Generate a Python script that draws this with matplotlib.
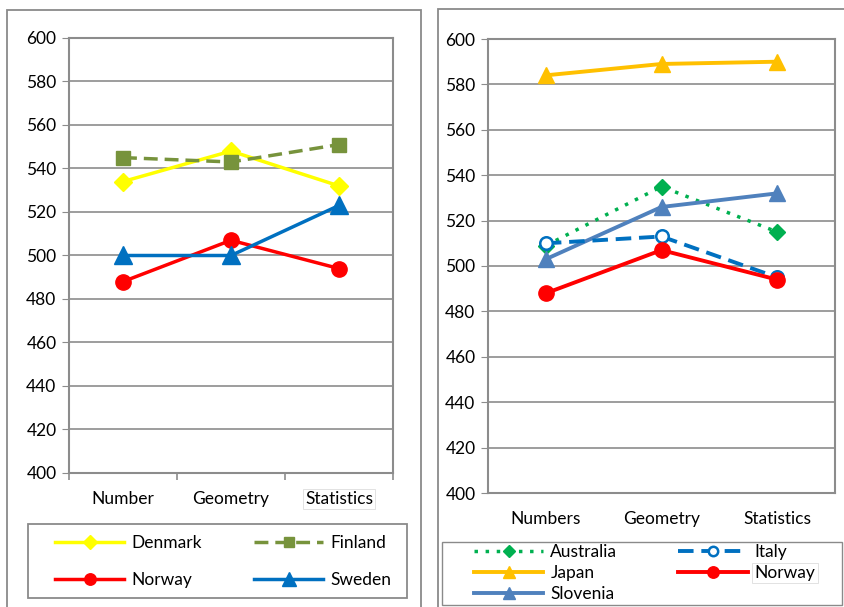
import matplotlib
matplotlib.use("Agg")
import matplotlib.pyplot as plt
from matplotlib.patches import Rectangle
import numpy as np

plt.rcParams['font.family'] = ['Lato', 'DejaVu Sans']

# left panel (Nordic countries)
cats_left = ["Number", "Geometry", "Statistics"]
denmark = [534, 548, 532]
finland = [545, 543, 551]
norway = [488, 507, 494]
sweden = [500, 500, 523]

# right panel
cats_right = ["Numbers", "Geometry", "Statistics"]
australia = [509, 535, 515]
italy = [510, 513, 495]
japan = [584, 589, 590]
norway_r = [488, 507, 494]
slovenia = [503, 526, 532]

W, H = 844, 607
FS = 12.5
fig = plt.figure(figsize=(W / 100, H / 100), dpi=100)

def px(x0, y0, x1, y1):
    # pixel box (top-left origin) -> figure fraction rect
    return [x0 / W, 1 - y1 / H, (x1 - x0) / W, (y1 - y0) / H]

def box(x0, y0, x1, y1, lw):
    r = px(x0, y0, x1, y1)
    fig.patches.append(Rectangle(r[:2], r[2], r[3], transform=fig.transFigure,
                                 fill=False, ec="#8a8a8a", lw=lw))

grid_c = "#8c8c8c"

# outer chart borders + legend boxes
box(7, 10, 421, 615, 1.3)
box(438, 9, 900, 615, 1.3)
box(28, 524, 407, 598, 1.3)
box(442, 542, 842, 605, 1.0)

def style_axes(ax, cats, xticks_marks):
    ax.set_ylim(400, 600)
    ax.set_yticks(np.arange(400, 601, 20))
    ax.set_xlim(-0.5, 2.5)
    ax.set_xticks(range(len(cats)))
    ax.set_xticklabels(cats)
    ax.grid(axis="y", color=grid_c, lw=1.2)
    ax.set_axisbelow(True)
    for s in ax.spines.values():
        s.set_color(grid_c)
        s.set_linewidth(1.5)
    ax.tick_params(axis="y", length=5, color=grid_c, labelsize=FS, pad=4)
    ax.tick_params(axis="x", length=0, labelsize=FS, pad=13)
    if xticks_marks:
        ax.set_xticks([-0.5, 0.5, 1.5, 2.5], minor=True)
        ax.tick_params(axis="x", which="minor", length=5, color=grid_c, width=1.2)

# ---- left panel
ax1 = fig.add_axes(px(69, 38, 393, 473))
style_axes(ax1, cats_left, True)
x = np.arange(3)
h_den, = ax1.plot(x, denmark, color="#FFFF00", lw=2.5, marker="D", ms=9, label="Denmark")
h_fin, = ax1.plot(x, finland, color="#77933C", lw=2.5, ls=(0, (4, 2)), marker="s", ms=10, label="Finland")
h_nor, = ax1.plot(x, norway, color="#FF0000", lw=2.5, marker="o", ms=11, label="Norway")
h_swe, = ax1.plot(x, sweden, color="#0070C0", lw=2.5, marker="^", ms=13, label="Sweden")
ax1.get_xticklabels()[2].set_bbox(dict(fc="white", ec="#dddddd", lw=0.6, pad=1.5))

fig.legend([h_den, h_nor, h_fin, h_swe], ["Denmark", "Norway", "Finland", "Sweden"],
           ncol=2, loc="upper left", bbox_to_anchor=(55 / W, 1 - 535 / H),
           borderaxespad=0, borderpad=0, frameon=False, fontsize=FS,
           handlelength=4.0, markerscale=0.75, handletextpad=0.4,
           labelspacing=1.2, columnspacing=3.0)

# ---- right panel
ax2 = fig.add_axes(px(488, 39, 835, 493))
style_axes(ax2, cats_right, False)
h_aus, = ax2.plot(x, australia, color="#00B050", lw=2.5, ls=(0, (1, 2.2)), marker="D", ms=8, label="Australia")
h_slo, = ax2.plot(x, slovenia, color="#4F81BD", lw=2.8, marker="^", ms=11, label="Slovenia")
h_ita, = ax2.plot(x, italy, color="#0070C0", lw=2.8, ls=(0, (4, 2)), marker="o", ms=9,
                  mfc="white", mew=1.8, label="Italy")
h_nr2, = ax2.plot(x, norway_r, color="#FF0000", lw=2.8, marker="o", ms=11, label="Norway")
h_jap, = ax2.plot(x, japan, color="#FFC000", lw=2.8, marker="^", ms=11, label="Japan")

leg2 = fig.legend([h_aus, h_jap, h_slo, h_ita, h_nr2], ["Australia", "Japan", "Slovenia", "Italy", "Norway"],
                  ncol=2, loc="upper left", bbox_to_anchor=(474 / W, 1 - 544 / H),
                  borderaxespad=0, borderpad=0, frameon=False, fontsize=FS,
                  handlelength=4.0, markerscale=0.75, handletextpad=0.4,
                  labelspacing=0.28, columnspacing=3.5)
leg2.get_texts()[4].set_bbox(dict(fc="white", ec="#dddddd", lw=0.6, pad=1.5))

fig.savefig("out.png", dpi=100)
